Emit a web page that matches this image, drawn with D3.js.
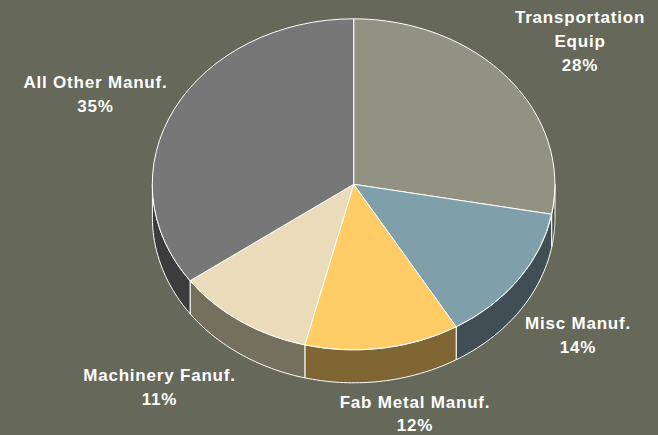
<!DOCTYPE html>
<html><head><meta charset="utf-8">
<script src="https://cdn.jsdelivr.net/npm/d3@7/dist/d3.min.js"></script>
<style>html,body{margin:0;padding:0;background:#66685a}svg{display:block}text{font-family:"Liberation Sans",Arial,sans-serif;font-weight:bold;font-size:17px;letter-spacing:.8px;fill:#fff;text-anchor:middle}</style>
</head><body><svg id="c" width="658" height="435"></svg>
<script>
const categories=["Transportation Equip","Misc Manuf.","Fab Metal Manuf.","Machinery Fanuf.","All Other Manuf."];
const shares=[27.9,13.6,12.4,11.2,34.9];
const topColors=["#929282","#7f9faa","#ffcc66","#eadcbb","#777777"];
const sideColors=["#4a4a40","#3f4f55","#806633","#75705e","#3c3c3c"];
const labelLines=[["Transportation","Equip","28%"],["Misc Manuf.","14%"],["Fab Metal Manuf.","12%"],["Machinery Fanuf.","11%"],["All Other Manuf.","35%"]];
const cx=353.7,cy=184.3,rx=201.3,ry=165.5,depth=33;
const labelAnchors=[[580,23],[578,329],[415,408],[159.5,381],[95.5,88]];
const labelGaps=[24,24,23,24,24];
const svg=d3.select("#c");
const arcs=d3.pie().sort(null).value(d=>d)(shares);
const arcGen=d3.arc().innerRadius(0).outerRadius(1);
const px=a=>cx+rx*Math.sin(a), py=a=>cy-ry*Math.cos(a);
function sidePath(a0,a1){
  const pts=d3.range(0,41).map(i=>a0+(a1-a0)*i/40);
  const top=pts.map(a=>[px(a),py(a)]);
  const bot=pts.slice().reverse().map(a=>[px(a),py(a)+depth]);
  return d3.line()(top.concat(bot))+"Z";
}
const h1=Math.PI/2,h2=3*Math.PI/2;
svg.append("g").selectAll("path").data(arcs.filter(d=>d.startAngle<h2&&d.endAngle>h1)).join("path")
 .attr("d",d=>sidePath(Math.max(d.startAngle,h1),Math.min(d.endAngle,h2)))
 .attr("fill",d=>sideColors[d.index]).attr("stroke","#fff").attr("stroke-width",1);
svg.append("g").attr("transform",`translate(${cx},${cy}) scale(${rx},${ry})`)
 .selectAll("path").data(arcs).join("path")
 .attr("d",arcGen).attr("fill",d=>topColors[d.index])
 .attr("stroke","#fff").attr("stroke-width",1).attr("vector-effect","non-scaling-stroke");
const t=svg.append("g");
labelLines.forEach((lines,i)=>{
  const tx=t.append("text").attr("y",labelAnchors[i][1]);
  lines.forEach((l,j)=>tx.append("tspan").attr("x",labelAnchors[i][0]).attr("dy",j?labelGaps[i]:0).text(l));
});
</script></body></html>
